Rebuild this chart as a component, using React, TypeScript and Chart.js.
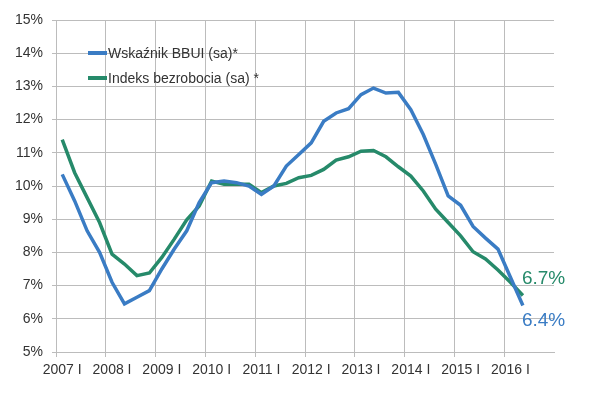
import React, { useEffect, useRef } from "react";
import { Chart, registerables } from "chart.js";

Chart.register(...registerables);

const years = [2007, 2008, 2009, 2010, 2011, 2012, 2013, 2014, 2015, 2016];
const quarters = ["I", "II", "III", "IV"];

const seriesNames = ["Wskaźnik BBUI (sa)*", "Indeks bezrobocia (sa) *"];

// 2007 I .. 2016 II (quarterly, %)
const bbui = [
  10.35, 9.55, 8.65, 8.0,
  7.1, 6.45, 6.65, 6.85,
  7.5, 8.1, 8.65, 9.5,
  10.1, 10.15, 10.1, 10.0,
  9.75, 10.0, 10.6, 10.95,
  11.3, 11.95, 12.2, 12.33,
  12.75, 12.95, 12.8, 12.82,
  12.3, 11.55, 10.65, 9.7,
  9.42, 8.78, 8.43, 8.1,
  7.25, 6.4,
];

const bezrobocie = [
  11.4, 10.4, 9.65, 8.9,
  7.95, 7.65, 7.3, 7.38,
  7.85, 8.4, 8.98, 9.4,
  10.15, 10.05, 10.05, 10.05,
  9.8, 10.0, 10.08, 10.25,
  10.32, 10.5, 10.78, 10.88,
  11.05, 11.07, 10.88, 10.58,
  10.3, 9.85, 9.3, 8.9,
  8.5, 8.02, 7.8, 7.47,
  7.1, 6.7,
];

const yMin = 5;
const yMax = 15;
const yStep = 1;

const blue = "#3a7cc4";
const green = "#268a6a";
const gridColor = "#bcbcbc";
const textColor = "#333333";
const fontFamily = "'Liberation Sans', Arial, sans-serif";

const categories = years.flatMap((y) => quarters.map((q) => `${y} ${q}`));

const overlayPlugin = {
  id: "overlay",
  afterDatasetsDraw(chart: any) {
    const { ctx, chartArea } = chart;
    ctx.save();
    // legend inside plot
    ctx.font = `14px ${fontFamily}`;
    ctx.textBaseline = "middle";
    ctx.textAlign = "left";
    chart.data.datasets.forEach((ds: any, i: number) => {
      const y = chartArea.top + 33 + i * 25;
      const x0 = chartArea.left + 32;
      ctx.strokeStyle = ds.borderColor;
      ctx.lineWidth = 4;
      ctx.beginPath();
      ctx.moveTo(x0, y);
      ctx.lineTo(x0 + 19, y);
      ctx.stroke();
      ctx.fillStyle = textColor;
      ctx.fillText(ds.label, x0 + 20, y + 1);
    });
    // end value labels
    ctx.font = `19px ${fontFamily}`;
    const offsets = [15, -17];
    chart.data.datasets.forEach((ds: any, i: number) => {
      const meta = chart.getDatasetMeta(i);
      const last = meta.data.length - 1;
      const el = meta.data[last];
      const v = ds.data[last];
      ctx.fillStyle = ds.borderColor;
      ctx.fillText(`${v.toFixed(1)}%`, el.x - 1, el.y + offsets[i]);
    });
    ctx.restore();
  },
};

export default function App() {
  const ref = useRef<HTMLCanvasElement | null>(null);

  useEffect(() => {
    if (!ref.current) return;
    const chart = new Chart(ref.current, {
      type: "line",
      data: {
        labels: categories,
        datasets: [
          {
            label: seriesNames[0],
            data: bbui,
            borderColor: blue,
            backgroundColor: blue,
            borderWidth: 3.5,
            pointRadius: 0,
            tension: 0,
            fill: false,
          },
          {
            label: seriesNames[1],
            data: bezrobocie,
            borderColor: green,
            backgroundColor: green,
            borderWidth: 3.5,
            pointRadius: 0,
            tension: 0,
            fill: false,
          },
        ],
      },
      options: {
        animation: false,
        responsive: false,
        devicePixelRatio: 1,
        layout: { padding: { left: 0, top: 20, right: 56, bottom: 0 } },
        plugins: {
          legend: { display: false },
          tooltip: { enabled: false },
        },
        scales: {
          x: {
            type: "category",
            offset: true,
            grid: {
              offset: true,
              color: (c: any) => (c.index % 4 === 0 ? gridColor : "rgba(0,0,0,0)"),
              lineWidth: 1,
              tickLength: 5,
              drawTicks: true,
            },
            border: { color: gridColor },
            ticks: {
              autoSkip: false,
              maxRotation: 0,
              minRotation: 0,
              padding: 5,
              color: textColor,
              font: { family: fontFamily, size: 14 },
              callback: (_v: any, i: number) => (i % 4 === 0 ? categories[i] : ""),
            },
            afterFit: (s: any) => {
              s.height = 47;
            },
          },
          y: {
            min: yMin,
            max: yMax,
            grid: { color: gridColor, lineWidth: 1, tickLength: 4 },
            border: { color: gridColor },
            ticks: {
              stepSize: yStep,
              padding: 9,
              color: textColor,
              font: { family: fontFamily, size: 14 },
              callback: (v: any) => `${v}%`,
            },
            afterFit: (s: any) => {
              s.width = 56;
            },
          },
        },
      },
      plugins: [overlayPlugin],
    });
    return () => chart.destroy();
  }, []);

  return (
    <div style={{ position: "absolute", left: 0, top: 0, width: 610, height: 399, background: "#fff" }}>
      <canvas ref={ref} width={610} height={399} />
    </div>
  );
}
